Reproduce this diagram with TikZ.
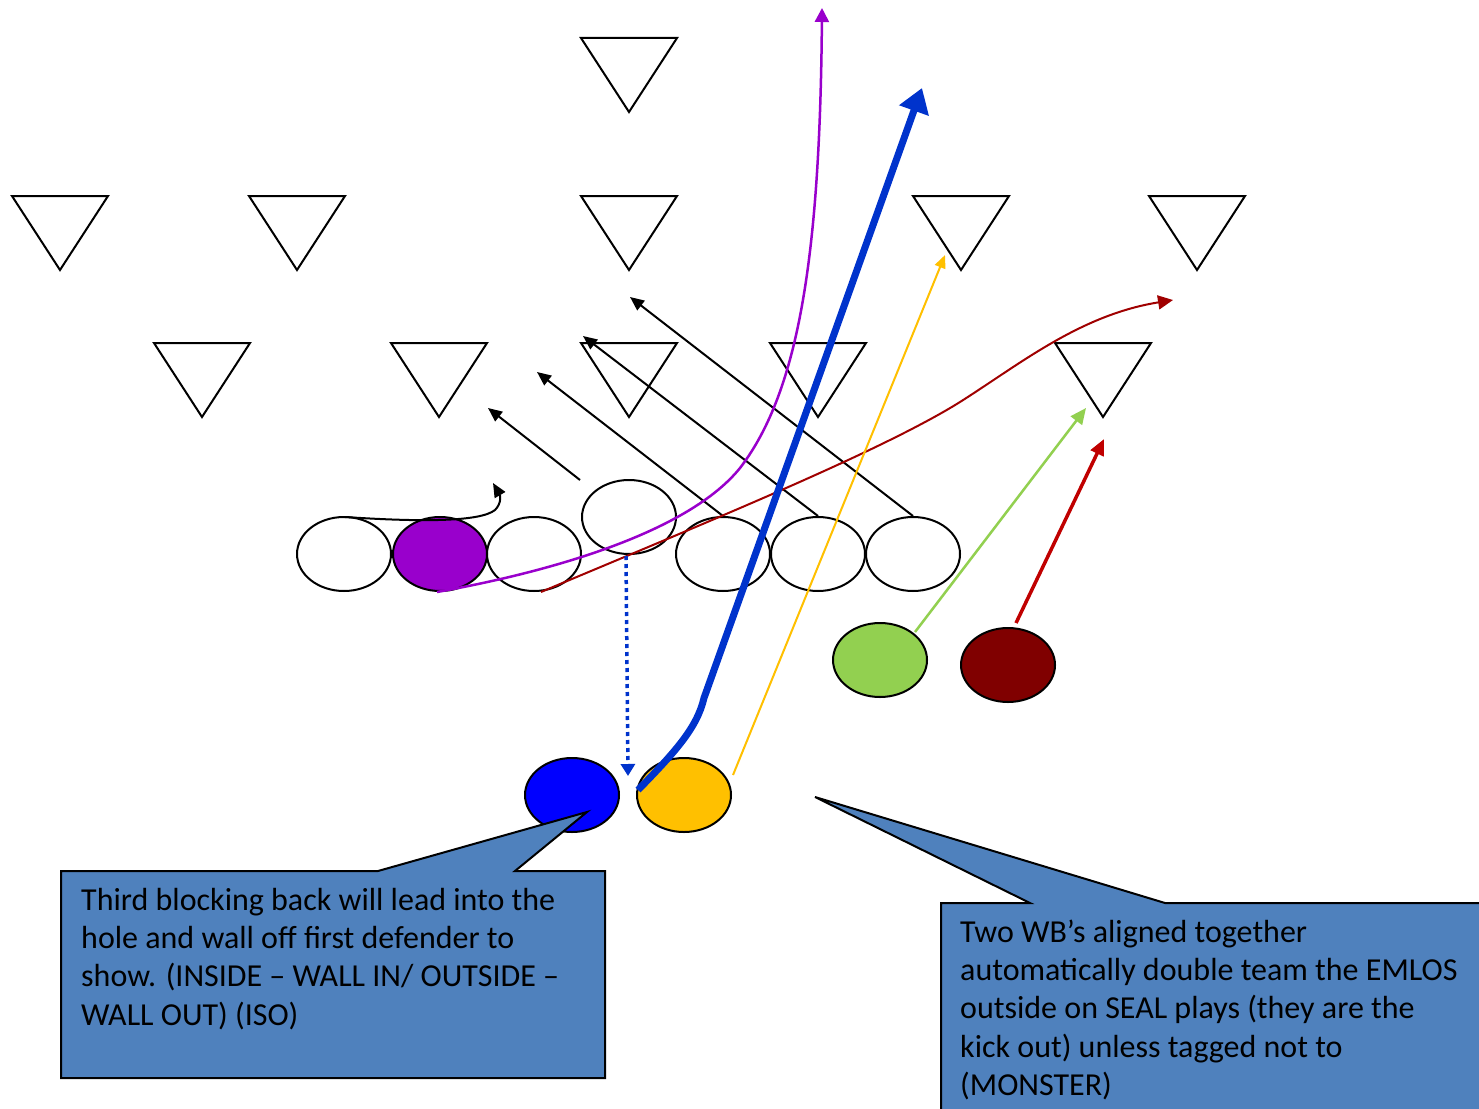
\documentclass[tikz,border=0pt]{standalone}
\usepackage{fontspec}
\setmainfont{Carlito}
\usetikzlibrary{arrows.meta,shapes.geometric}
\definecolor{cpurple}{HTML}{9900CC}
\definecolor{cgreen}{HTML}{92D050}
\definecolor{cmaroon}{HTML}{800000}
\definecolor{cblue}{HTML}{0000FF}
\definecolor{cyellow}{HTML}{FFC000}
\definecolor{cline}{HTML}{0033CC}
\definecolor{credA}{HTML}{A00000}
\definecolor{credB}{HTML}{C00000}
\definecolor{ccallout}{HTML}{4F81BD}
\tikzset{
  player/.style={ellipse,draw=black,line width=2pt,minimum width=94pt,minimum height=74pt,inner sep=0pt},
  defl/.style={draw=black,line width=2pt,line join=miter},
  blk/.style={line width=2pt,draw=black,-{Triangle[length=14pt,width=12pt]}},
  callout/.style={fill=ccallout,draw=black,line width=2pt,line join=miter},
  ctext/.style={anchor=base west,inner sep=0pt,font=\fontsize{32}{38}\selectfont}
}
\newcommand\dtri[3]{\draw[defl] ({#1-48},#2) -- ({#1+48},#2) -- (#1,{#2+74}) -- cycle; \coordinate (#3) at (#1,{#2+37});}
\begin{document}
\begin{tikzpicture}[x=1pt,y=-1pt]
\clip (0,0) rectangle (1479,1108);
\fill[white] (0,0) rectangle (1479,1108);
% defenders
\dtri{629}{38}{d0}
\dtri{60}{196}{d1}
\dtri{297}{196}{d2}
\dtri{629}{196}{d3}
\dtri{961}{196}{d4}
\dtri{1197}{196}{d5}
\dtri{202}{343}{d6}
\dtri{439}{343}{d7}
\dtri{629}{343}{d8}
\dtri{818}{343}{d9}
\dtri{1103}{343}{d10}
% offense
\node[player] (o1) at (344,554) {};
\node[player,fill=cpurple] (o2) at (440,554) {};
\node[player] (o3) at (534,554) {};
\node[player] (c) at (629,517) {};
\node[player] (o5) at (723,554) {};
\node[player] (o6) at (818,554) {};
\node[player] (o7) at (913,554) {};
\node[player,fill=cgreen] (wg) at (880,660) {};
\node[player,fill=cmaroon] (wr) at (1008,665) {};
\node[player,fill=cblue] (bb) at (572,795) {};
\node[player,fill=cyellow] (yb) at (684,795) {};
% endpoints
\coordinate (curlS) at (345,517);
\coordinate (curlE) at (493,483);
\coordinate (b1S) at (580,480);
\coordinate (b1E) at (488,408);
\coordinate (b2E) at (537,372);
\coordinate (b3E) at (583,336);
\coordinate (b4E) at (630,297);
\coordinate (pS) at (437,592);
\coordinate (pE) at (822,8);
\coordinate (rS) at (541,592);
\coordinate (rE) at (1173,300);
\coordinate (blS) at (638,790);
\coordinate (blE) at (922,88);
\coordinate (dS) at (626,556);
\coordinate (dE) at (628,776);
\coordinate (yS) at (733,775);
\coordinate (yE) at (945,255);
\coordinate (gS) at (915,632);
\coordinate (gE) at (1086,408);
\coordinate (wS) at (1016,623);
\coordinate (wE) at (1104,439);
% routes
\draw[blk] (curlS) .. controls (420,522) and (480,522) .. (495,510) .. controls (502,503) and (500,495) .. (curlE);
\draw[blk] (b1S) -- (b1E);
\draw[blk] (o5.north) -- (b2E);
\draw[blk] (o6.north) -- (b3E);
\draw[blk] (o7.north) -- (b4E);
\draw[cpurple,line width=2.5pt,-{Triangle[length=14pt,width=14pt]}] (pS) .. controls (560,570) and (690,530) .. (740,468) .. controls (800,390) and (820,250) .. (pE);
\draw[credA,line width=2pt,-{Triangle[length=15pt,width=14pt]}] (rS) .. controls (700,525) and (880,452) .. (960,402) .. controls (1020,364) and (1080,315) .. (rE);
\draw[cline,line width=7pt,-{Triangle[length=24pt,width=30pt]}] (blS) .. controls (675,752) and (697,728) .. (704,698) -- (blE);
\draw[cline,line width=3.5pt,dash pattern=on 4pt off 4pt,-{Triangle[length=12pt,width=14pt]}] (dS) -- (dE);
\draw[cyellow,line width=2pt,-{Triangle[length=13pt,width=11pt]}] (yS) -- (yE);
\draw[cgreen,line width=2.5pt,-{Triangle[length=16pt,width=14pt]}] (gS) -- (gE);
\draw[credB,line width=3.5pt,-{Triangle[length=16pt,width=14pt]}] (wS) -- (wE);
% callouts
\draw[callout] (61,871) -- (378,871) -- (587,812) -- (515,871) -- (605,871) -- (605,1078) -- (61,1078) -- cycle;
\draw[callout] (941,1120) -- (941,903) -- (1030,903) -- (815,797) -- (1165,903) -- (1490,903) -- (1490,1120) -- cycle;
\node[ctext] (l1) at (81,910) {Third blocking back will lead into the};
\node[ctext] (l2) at (81,948) {hole and wall off first defender to};
\node[ctext] (l3) at (81,986) {show. (INSIDE – WALL IN/ OUTSIDE –};
\node[ctext] (l4) at (81,1025) {WALL OUT) (ISO)};
\node[ctext] (r1) at (960,942) {Two WB’s aligned together};
\node[ctext] (r2) at (960,980) {automatically double team the EMLOS};
\node[ctext] (r3) at (960,1018) {outside on SEAL plays (they are the};
\node[ctext] (r4) at (960,1057) {kick out) unless tagged not to};
\node[ctext] (r5) at (960,1095) {(MONSTER)};
\end{tikzpicture}
\end{document}
